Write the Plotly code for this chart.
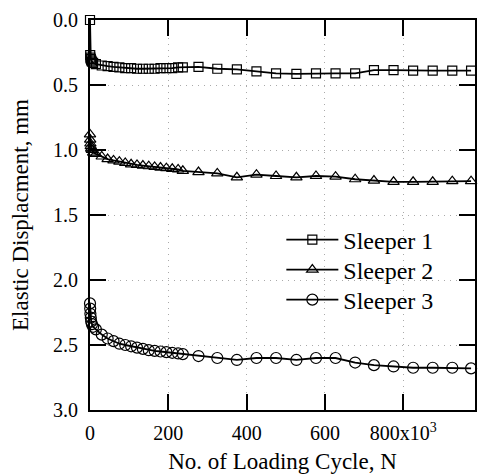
import plotly.graph_objects as go

# Loading cycles (x10^3)
N = [0, 0.5, 1, 2, 3, 5, 8,
     15, 30, 45, 60, 75, 90, 105, 120, 135, 150, 165, 180, 195, 210, 225, 237,
     277, 325, 375, 425, 475, 527, 577, 627, 677, 725, 775, 825, 875, 925, 973]

sleeper1 = [0.0, 0.27, 0.29, 0.30, 0.31, 0.32, 0.33,
            0.34, 0.35, 0.355, 0.36, 0.365, 0.37, 0.37, 0.375, 0.375, 0.375, 0.375, 0.37, 0.37, 0.37, 0.365, 0.365,
            0.36, 0.375, 0.38, 0.395, 0.41, 0.415, 0.41, 0.41, 0.41, 0.385, 0.385, 0.39, 0.39, 0.39, 0.39]

sleeper2 = [0.88, 0.92, 0.95, 0.97, 0.99, 1.00, 1.02,
            1.03, 1.05, 1.07, 1.08, 1.09, 1.10, 1.11, 1.115, 1.12, 1.125, 1.13, 1.135, 1.14, 1.145, 1.15, 1.16,
            1.17, 1.18, 1.21, 1.19, 1.20, 1.21, 1.20, 1.205, 1.225, 1.235, 1.245, 1.245, 1.245, 1.24, 1.24]

sleeper3 = [2.18, 2.22, 2.26, 2.29, 2.32, 2.34, 2.36,
            2.38, 2.42, 2.45, 2.47, 2.49, 2.50, 2.51, 2.52, 2.53, 2.54, 2.545, 2.55, 2.555, 2.56, 2.565, 2.57,
            2.585, 2.60, 2.615, 2.60, 2.60, 2.615, 2.60, 2.60, 2.635, 2.655, 2.665, 2.675, 2.675, 2.675, 2.68]

x_tickvals = [0, 200, 400, 600, 800]
x_ticktext = ["0", "200", "400", "600", "800x10<sup>3</sup>"]
y_tickvals = [0.0, 0.5, 1.0, 1.5, 2.0, 2.5, 3.0]
y_ticktext = ["0.0", "0.5", "1.0", "1.5", "2.0", "2.5", "3.0"]

series = [
    ("Sleeper 1", sleeper1, "square-open", 9, "legend", 0.436),
    ("Sleeper 2", sleeper2, "triangle-up-open", 10, "legend2", 0.359),
    ("Sleeper 3", sleeper3, "circle-open", 11, "legend3", 0.282),
]

FONT = "Times New Roman, Liberation Serif, DejaVu Serif, serif"

fig = go.Figure()
legends = {}
for name, vals, sym, sz, leg, ly in series:
    fig.add_trace(go.Scatter(
        x=N, y=vals, name=name, mode="lines+markers", legend=leg,
        cliponaxis=False,
        line=dict(color="black", width=1.8),
        marker=dict(symbol=sym, size=sz, color="black", line=dict(width=1.2, color="black")),
    ))
    legends[leg] = dict(x=0.497, y=ly, xanchor="left", yanchor="middle",
                        font=dict(family=FONT, size=24, color="black"),
                        bgcolor="rgba(0,0,0,0)", itemwidth=52)

fig.update_layout(
    width=479, height=476,
    margin=dict(l=90, r=2, t=20, b=66),
    paper_bgcolor="white", plot_bgcolor="white",
    font=dict(family=FONT, color="black", size=20),
    showlegend=True,
    **legends,
)
fig.update_xaxes(
    range=[0, 983], tickvals=x_tickvals, ticktext=x_ticktext,
    ticks="inside", ticklen=16, tickwidth=2, tickcolor="black",
    showline=True, linecolor="black", linewidth=2, mirror="ticks",
    showgrid=True, gridcolor="#aaaaaa", griddash="1px,5px", gridwidth=1,
    zeroline=False, tickfont=dict(family=FONT, size=20), ticklabelstandoff=4,
    title=dict(text="No. of Loading Cycle, N", font=dict(family=FONT, size=23), standoff=10),
)
fig.update_yaxes(
    range=[3.0, 0.0], tickvals=y_tickvals, ticktext=y_ticktext,
    ticks="inside", ticklen=16, tickwidth=2, tickcolor="black",
    showline=True, linecolor="black", linewidth=2, mirror="ticks",
    showgrid=True, gridcolor="#aaaaaa", griddash="1px,5px", gridwidth=1,
    zeroline=False, tickfont=dict(family=FONT, size=20), ticklabelstandoff=6,
    title=dict(text="Elastic Displacment, mm", font=dict(family=FONT, size=23), standoff=18),
)
fig.write_html("out.html")
